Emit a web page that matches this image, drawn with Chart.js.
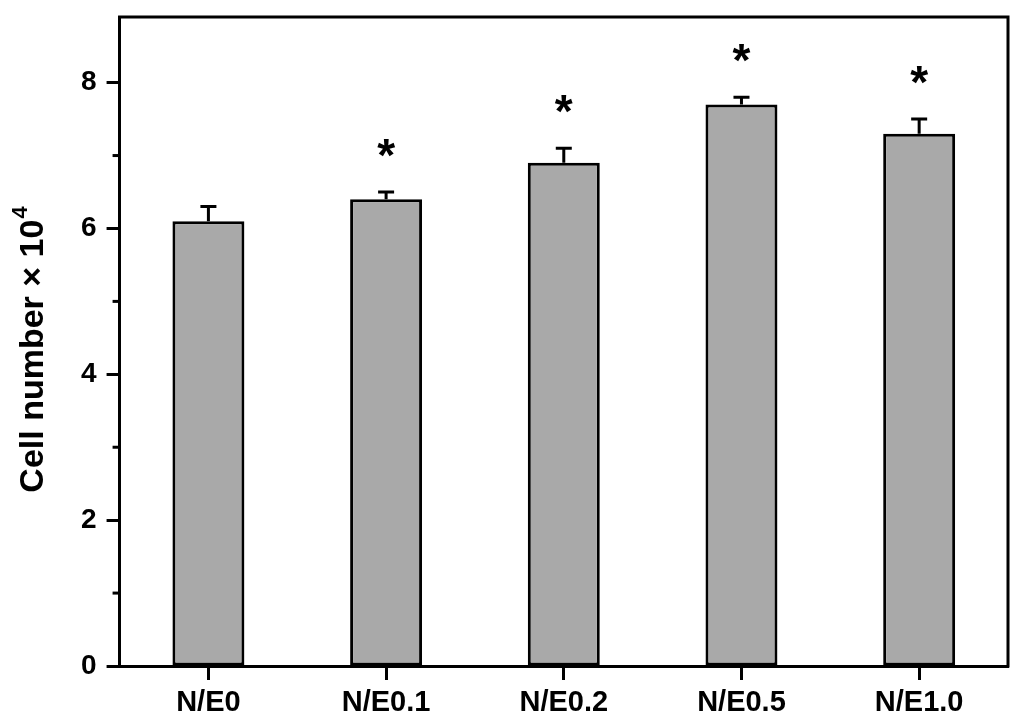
<!DOCTYPE html>
<html>
<head>
<meta charset="utf-8">
<script src="https://cdn.jsdelivr.net/npm/chart.js@4.4.0/dist/chart.umd.min.js"></script>
<style>
    html, body { margin: 0; padding: 0; background: #fff; }
</style>
</head>
<body>
<canvas id="myChart" width="1024" height="725"></canvas>
<script>
    // datos
    var groups = ['N/E0', 'N/E0.1', 'N/E0.2', 'N/E0.5', 'N/E1.0'];
    var cellNumber = [6.1, 6.4, 6.9, 7.7, 7.3];
    var errorUp = [0.2, 0.1, 0.2, 0.1, 0.2];
    var significant = [false, true, true, true, true];
    var yMajorTicks = [0, 2, 4, 6, 8];
    var yMinorTicks = [1, 3, 5, 7];
    var yTitle = 'Cell number \u00d7 10';
    var yTitleSup = '4';

    var fontFamily = '"Liberation Sans", Arial, sans-serif';

    // barras de error, asteriscos, marco y titulo del eje
    var extrasPlugin = {
        id: 'extras',
        afterDatasetsDraw: function (chart) {
            var ctx = chart.ctx;
            var yScale = chart.scales.y;
            var meta = chart.getDatasetMeta(0);
            ctx.save();
            ctx.strokeStyle = '#000';
            ctx.lineWidth = 3;
            meta.data.forEach(function (bar, i) {
                var yTop = yScale.getPixelForValue(cellNumber[i]);
                var yErr = yScale.getPixelForValue(cellNumber[i] + errorUp[i]);
                ctx.beginPath();
                ctx.moveTo(bar.x, yTop);
                ctx.lineTo(bar.x, yErr);
                ctx.moveTo(bar.x - 8, yErr);
                ctx.lineTo(bar.x + 8, yErr);
                ctx.stroke();
                if (significant[i]) {
                    ctx.font = 'bold 46px ' + fontFamily;
                    ctx.fillStyle = '#000';
                    ctx.textAlign = 'center';
                    ctx.textBaseline = 'alphabetic';
                    var m = ctx.measureText('*');
                    var inkMid = (m.actualBoundingBoxAscent - m.actualBoundingBoxDescent) / 2;
                    ctx.fillText('*', bar.x, yErr - 44 + inkMid);
                }
            });
            ctx.restore();
        },
        afterDraw: function (chart) {
            var ctx = chart.ctx;
            var area = chart.chartArea;
            var yScale = chart.scales.y;
            ctx.save();
            ctx.strokeStyle = '#000';
            ctx.lineWidth = 3;
            ctx.lineCap = 'square';
            ctx.beginPath();
            ctx.moveTo(area.left, area.top);
            ctx.lineTo(area.right, area.top);
            ctx.lineTo(area.right, area.bottom);
            ctx.stroke();
            // ticks menores
            ctx.lineCap = 'butt';
            yMinorTicks.forEach(function (v) {
                var y = yScale.getPixelForValue(v);
                ctx.beginPath();
                ctx.moveTo(area.left - 7, y);
                ctx.lineTo(area.left, y);
                ctx.stroke();
            });
            // titulo del eje y con superindice
            ctx.fillStyle = '#000';
            ctx.translate(43, 350);
            ctx.rotate(-Math.PI / 2);
            ctx.textBaseline = 'alphabetic';
            ctx.textAlign = 'left';
            ctx.font = 'bold 34px ' + fontFamily;
            var wMain = ctx.measureText(yTitle).width;
            ctx.font = 'bold 22px ' + fontFamily;
            var wSup = ctx.measureText(yTitleSup).width;
            var x0 = -(wMain + wSup) / 2;
            ctx.font = 'bold 34px ' + fontFamily;
            ctx.fillText(yTitle, x0, 0);
            ctx.font = 'bold 22px ' + fontFamily;
            ctx.fillText(yTitleSup, x0 + wMain + 1, -16);
            ctx.restore();
        }
    };

    var data = {
        labels: groups,
        datasets: [{
            label: 'Cell number',
            data: cellNumber,
            backgroundColor: '#a9a9a9',
            borderColor: '#000',
            borderWidth: 3,
            borderSkipped: false,
            categoryPercentage: 1.0,
            barPercentage: 0.405
        }]
    };

    var config = {
        type: 'bar',
        data: data,
        options: {
            responsive: false,
            animation: false,
            layout: { padding: { top: 12, right: 16, left: 71, bottom: 0 } },
            plugins: {
                legend: { display: false },
                tooltip: { enabled: false }
            },
            scales: {
                x: {
                    offset: true,
                    grid: {
                        offset: false,
                        drawOnChartArea: false,
                        drawTicks: true,
                        tickLength: 14,
                        tickWidth: 3,
                        tickColor: '#000'
                    },
                    border: { display: true, color: '#000', width: 3 },
                    ticks: {
                        color: '#000',
                        padding: 8,
                        font: { family: fontFamily, size: 29, weight: 'bold', lineHeight: 1 }
                    }
                },
                y: {
                    min: 0,
                    max: 8.9,
                    afterBuildTicks: function (scale) {
                        scale.ticks = yMajorTicks.map(function (v) { return { value: v }; });
                    },
                    grid: {
                        drawOnChartArea: false,
                        drawTicks: true,
                        tickLength: 13,
                        tickWidth: 3,
                        tickColor: '#000'
                    },
                    border: { display: true, color: '#000', width: 3 },
                    ticks: {
                        color: '#000',
                        padding: 10,
                        font: { family: fontFamily, size: 28, weight: 'bold', lineHeight: 0.5 },
                        callback: function (v) { return v; }
                    }
                }
            }
        },
        plugins: [extrasPlugin]
    };

    var myChart = new Chart(document.getElementById('myChart'), config);
</script>
</body>
</html>
